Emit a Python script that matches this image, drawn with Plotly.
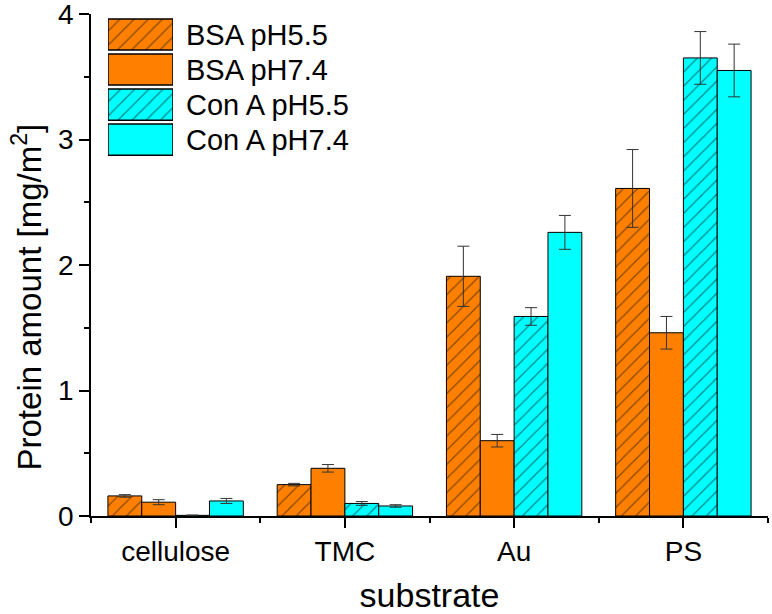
import plotly.graph_objects as go

categories = ["cellulose", "TMC", "Au", "PS"]
series_names = ["BSA pH5.5", "BSA pH7.4", "Con A pH5.5", "Con A pH7.4"]
bsa_55 = [0.16, 0.25, 1.91, 2.61]
bsa_55_err = [0.01, 0.01, 0.24, 0.31]
bsa_74 = [0.11, 0.38, 0.60, 1.46]
bsa_74_err = [0.02, 0.03, 0.05, 0.13]
cona_55 = [0.005, 0.10, 1.59, 3.65]
cona_55_err = [0.003, 0.015, 0.07, 0.21]
cona_74 = [0.12, 0.08, 2.26, 3.55]
cona_74_err = [0.02, 0.01, 0.135, 0.21]

ORANGE = "#FF8000"
CYAN = "#00FFFF"
FONT = "Arial, Liberation Sans, sans-serif"

values = [bsa_55, bsa_74, cona_55, cona_74]
errors = [bsa_55_err, bsa_74_err, cona_55_err, cona_74_err]
colors = [ORANGE, ORANGE, CYAN, CYAN]
hatched = [True, False, True, False]

xpos = list(range(len(categories)))


def make_pattern(c, h):
    if h:
        return dict(shape="/", fgcolor="#111111", bgcolor=c, size=10, solidity=0.13, fillmode="overlay")
    return dict(shape="")


fig = go.Figure()
for name, v, e, c, h in zip(series_names, values, errors, colors, hatched):
    fig.add_trace(go.Bar(
        x=xpos, y=v, name=name,
        marker=dict(color=c, line=dict(color="black", width=1), pattern=make_pattern(c, h)),
        error_y=dict(type="data", array=e, visible=True, color="#333333", thickness=1, width=6),
        showlegend=False,
    ))

# custom legend drawn as bars on a small inset axis
for i, (name, c, h) in enumerate(zip(series_names, colors, hatched)):
    fig.add_trace(go.Bar(
        x=[1], y=[i], orientation="h", xaxis="x2", yaxis="y2",
        marker=dict(color=c, line=dict(color="black", width=1.5), pattern=make_pattern(c, h)),
        showlegend=False, hoverinfo="skip", width=0.89,
    ))
    fig.add_annotation(
        x=0.137, y=i, xref="paper", yref="y2", text=name, showarrow=False,
        xanchor="left", yanchor="middle", font=dict(family=FONT, size=29, color="black"),
    )

# y-axis title (placed as in the reference, slightly below the axis centre)
fig.add_annotation(
    x=-0.094, y=0.436, xref="paper", yref="paper", textangle=-90,
    text="Protein amount [mg/m<sup>2</sup>]", showarrow=False,
    xanchor="center", yanchor="middle", font=dict(family=FONT, size=33, color="black"),
)

fig.update_layout(
    width=772, height=614,
    margin=dict(l=91, r=4, t=14, b=98),
    paper_bgcolor="white", plot_bgcolor="white",
    barmode="group", bargap=0.2, bargroupgap=0,
    font=dict(family=FONT, color="black"),
    xaxis=dict(
        range=[-0.5, 3.5], tickmode="array", tickvals=xpos, ticktext=categories,
        showline=True, linecolor="black", linewidth=1.5, ticks="outside", ticklen=10,
        tickwidth=1.5, tickcolor="black", showgrid=False, zeroline=False,
        tickfont=dict(size=28), automargin=False, ticklabeloverflow="allow",
        minor=dict(tickmode="linear", tick0=0.5, dtick=1, ticks="outside", ticklen=5, tickwidth=1.5, tickcolor="black"),
        title=dict(text="substrate", font=dict(size=34), standoff=19),
    ),
    yaxis=dict(
        range=[0, 4], tickmode="linear", tick0=0, dtick=1,
        showline=True, linecolor="black", linewidth=1.5, ticks="outside", ticklen=10,
        tickwidth=1.5, tickcolor="black", showgrid=False, zeroline=False,
        tickfont=dict(size=28), automargin=False, ticklabeloverflow="allow",
        minor=dict(tickmode="linear", tick0=0.5, dtick=1, ticks="outside", ticklen=5, tickwidth=1.5, tickcolor="black"),
    ),
    xaxis2=dict(domain=[0.0251, 0.1211], range=[0, 1], visible=False, anchor="y2"),
    yaxis2=dict(domain=[0.715, 0.994], range=[3.5, -0.5], visible=False, anchor="x2"),
)

fig.write_html(
    "out.html",
    config={"displayModeBar": False},
    post_script="document.body.style.margin='0';document.body.style.overflow='hidden';",
)
